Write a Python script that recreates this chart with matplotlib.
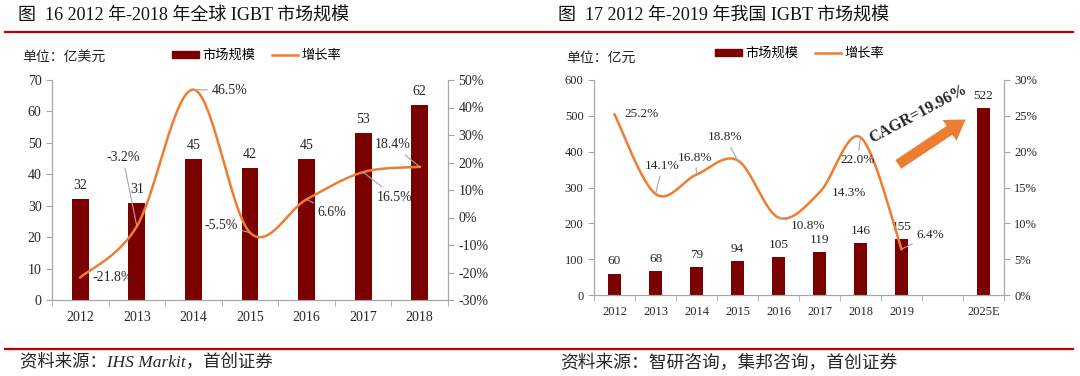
import matplotlib.pyplot as plt
import numpy as np
from matplotlib.patches import Patch
from matplotlib.lines import Line2D

plt.rcParams['font.family'] = ['Liberation Serif', 'Noto Sans CJK SC']
plt.rcParams['axes.unicode_minus'] = False

# ---- data ----
years_g = ['2012', '2013', '2014', '2015', '2016', '2017', '2018']
market_g = [32, 31, 45, 42, 45, 53, 62]
growth_g = [-21.8, -3.2, 46.5, -5.5, 6.6, 16.5, 18.4]

years_c = ['2012', '2013', '2014', '2015', '2016', '2017', '2018', '2019', '', '2025E']
market_c = [60, 68, 79, 94, 105, 119, 146, 155, np.nan, 522]
growth_c = [25.2, 14.1, 16.8, 18.8, 10.8, 14.3, 22.0, 6.4]

# label offsets (pixels) for the growth labels, and whether a leader line is drawn
offs_g = [(12, 0, 'left', False), (-14, 69, 'center', True), (18, -1, 'left', True),
          (-12, 7, 'right', True), (11, -13, 'left', True), (14, -25, 'left', True),
          (-27, 22, 'center', True)]
offs_c = [(10, 0, 'left', False), (7, 28, 'center', True), (-1, 17, 'center', True),
          (-12, 23, 'center', True), (12, -8, 'left', True), (12, 0, 'left', False),
          (-3, -23, 'center', True), (15, 14, 'left', True)]

BAR = '#7B0000'
LINE = '#ED7D31'
RULE = '#C00000'
GREY = '#A6A6A6'
TXT = '#262626'


def smooth(x, y, n=40):
    # excel-style smoothed line (catmull-rom as bezier)
    p = np.column_stack([x, y]).astype(float)
    out = []
    for i in range(len(p) - 1):
        p0 = p[i - 1] if i > 0 else p[i]
        p3 = p[i + 2] if i + 2 < len(p) else p[i + 1]
        p1, p2 = p[i], p[i + 1]
        c1 = p1 + (p2 - p0) / 6
        c2 = p2 - (p3 - p1) / 6
        t = np.linspace(0, 1, n)[:, None]
        seg = (1 - t) ** 3 * p1 + 3 * (1 - t) ** 2 * t * c1 + 3 * (1 - t) * t ** 2 * c2 + t ** 3 * p2
        out.append(seg if i == 0 else seg[1:])
    out = np.vstack(out)
    return out[:, 0], out[:, 1]


def style_axes(ax, axr, n, fs):
    for a in (ax, axr):
        a.spines['top'].set_visible(False)
        for s in ('left', 'right', 'bottom'):
            a.spines[s].set_color(GREY)
        a.tick_params(colors=GREY, labelcolor=TXT, labelsize=fs, length=4, direction='out')
    ax.set_xlim(-0.5, n - 0.5)
    ax.set_xticks(np.arange(-0.5, n), minor=True)
    ax.tick_params(axis='x', which='major', length=0, pad=8)
    ax.tick_params(axis='x', which='minor', length=4, color=GREY)


def label_line(axr, xs, ys, offs, fs):
    for x, y, (dx, dy, ha, lead) in zip(xs, ys, offs):
        axr.annotate('%.1f%%' % y, xy=(x, y), xytext=(dx, dy), textcoords='offset pixels',
                     ha=ha, va='center', fontsize=fs, color=TXT,
                     arrowprops=dict(arrowstyle='-', color=GREY, lw=0.8, shrinkA=1, shrinkB=0)
                     if lead else None)


fig = plt.figure(figsize=(10.8, 3.76), dpi=100)

# ---------------- left chart ----------------
ax1 = fig.add_axes([52 / 1080, 1 - 300 / 376, 396 / 1080, 220 / 376])
ax1r = ax1.twinx()
x1 = np.arange(len(years_g))
ax1.bar(x1, market_g, width=0.3, color=BAR, zorder=2)
for x, v in zip(x1, market_g):
    ax1.annotate(str(v), xy=(x, v), xytext=(0, 7), textcoords='offset pixels',
                 ha='center', va='bottom', fontsize=10, color=TXT)
ax1.set_ylim(0, 70)
ax1.set_yticks(range(0, 71, 10))
ax1r.set_ylim(-30, 50)
ax1r.set_yticks(range(-30, 51, 10))
ax1r.set_yticklabels(['%d%%' % v for v in range(-30, 51, 10)])
sx, sy = smooth(x1, growth_g)
ax1r.plot(sx, sy, color=LINE, lw=1.8, zorder=3)
label_line(ax1r, x1, growth_g, offs_g, 10)
ax1.set_xticks(x1)
ax1.set_xticklabels(years_g)
style_axes(ax1, ax1r, len(years_g), 10)

# ---------------- right chart ----------------
ax2 = fig.add_axes([594 / 1080, 1 - 295 / 376, 410 / 1080, 215 / 376])
ax2r = ax2.twinx()
x2 = np.arange(len(years_c))
ax2.bar(x2, market_c, width=0.32, color=BAR, zorder=2)
for x, v in zip(x2, market_c):
    if not np.isnan(v):
        ax2.annotate('%d' % v, xy=(x, v), xytext=(0, 6), textcoords='offset pixels',
                     ha='center', va='bottom', fontsize=9.5, color=TXT)
ax2.set_ylim(0, 600)
ax2.set_yticks(range(0, 601, 100))
ax2r.set_ylim(0, 30)
ax2r.set_yticks(range(0, 31, 5))
ax2r.set_yticklabels(['%d%%' % v for v in range(0, 31, 5)])
x2l = x2[:len(growth_c)]
sx, sy = smooth(x2l, growth_c)
ax2r.plot(sx, sy, color=LINE, lw=1.8, zorder=3)
label_line(ax2r, x2l, growth_c, offs_c, 9.5)
ax2.set_xticks(x2)
ax2.set_xticklabels(years_c)
style_axes(ax2, ax2r, len(years_c), 9)

# CAGR arrow and text
ax2.annotate('', xy=(968, 376 - 118), xytext=(896, 376 - 166), xycoords='figure pixels',
             textcoords='figure pixels',
             arrowprops=dict(arrowstyle='simple,head_width=1.8,head_length=1.4,tail_width=0.75',
                             mutation_scale=10, color=LINE, lw=0))
fig.text(918 / 1080, 1 - 114 / 376, 'CAGR=19.96%', rotation=28, ha='center', va='center',
         fontsize=11.5, fontweight='bold', color=TXT)

# ---------------- titles, units, legends, rules, sources ----------------
fig.text(18 / 1080, 1 - 15 / 376, '图  16 2012 年-2018 年全球 IGBT 市场规模',
         fontsize=13, va='center', ha='left', color='#111111')
fig.text(558 / 1080, 1 - 15 / 376, '图  17 2012 年-2019 年我国 IGBT 市场规模',
         fontsize=13, va='center', ha='left', color='#111111')
fig.add_artist(Line2D([5 / 1080, 1073 / 1080], [1 - 32 / 376] * 2, color=RULE, lw=1.6))
fig.add_artist(Line2D([5 / 1080, 1073 / 1080], [1 - 349 / 376] * 2, color=RULE, lw=1.6))

fig.text(22 / 1080, 1 - 58 / 376, '单位：亿美元', fontsize=10, va='center', color=TXT)
fig.text(566 / 1080, 1 - 58 / 376, '单位：亿元', fontsize=10, va='center', color=TXT)

handles = [Patch(color=BAR), Line2D([], [], color=LINE, lw=1.8)]
names = ['市场规模', '增长率']
fig.legend(handles, names, loc='center', bbox_to_anchor=(257 / 1080, 1 - 56 / 376), ncol=2,
           frameon=False, fontsize=9.5, handlelength=2.0, handleheight=0.5, columnspacing=1.2,
           handletextpad=0.3)
fig.legend(handles, names, loc='center', bbox_to_anchor=(800 / 1080, 1 - 54 / 376), ncol=2,
           frameon=False, fontsize=9.5, handlelength=2.0, handleheight=0.5, columnspacing=1.2,
           handletextpad=0.3)

fig.text(20 / 1080, 1 - 363 / 376, '资料来源：IHS Markit，首创证券', fontsize=12.5,
         style='italic', va='center', color=TXT)
fig.text(560 / 1080, 1 - 363 / 376, '资料来源：智研咨询，集邦咨询，首创证券', fontsize=12.8,
         style='italic', va='center', color=TXT)

fig.savefig('out.png', dpi=100)
